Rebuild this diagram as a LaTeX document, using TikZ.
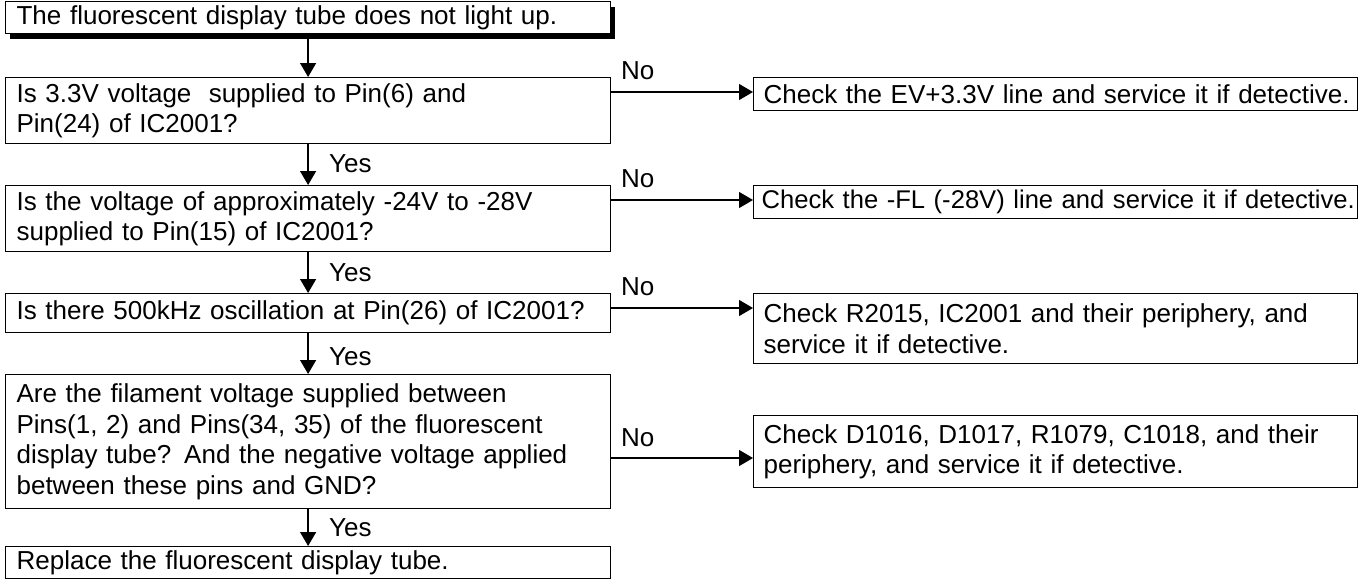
\documentclass[tikz,border=0pt]{standalone}
\usepackage{fontspec}
\setmainfont{Liberation Sans}
\usetikzlibrary{arrows.meta,shadows}
\begin{document}
\begin{tikzpicture}[x=1pt,y=-1pt,
  box/.style={draw, line width=1.2pt, anchor=north west, inner ysep=0pt, align=left,
    font=\fontsize{26}{30.5}\selectfont},
  lbox/.style={box, inner xsep=11pt, text width=583pt},
  rbox/.style={box, inner xsep=10pt, text width=584pt},
  arr/.style={-{Triangle[length=14pt,width=16pt]}, line width=1.3pt},
  lbl/.style={anchor=west, inner sep=0pt, font=\fontsize{26}{30}\selectfont}]
\useasboundingbox (0,0) rectangle (1363,579);
% left column
\node[lbox, minimum height=32pt, fill=white,
  drop shadow={shadow xshift=4pt, shadow yshift=-5pt, opacity=1, fill=black}] (t) at (5,1)
  {The fluorescent display tube does not light up.};
\node[lbox, minimum height=66pt] (q1) at (5,77)
  {Is 3.3V voltage\ \ supplied to Pin(6) and\\Pin(24) of IC2001?};
\node[lbox, minimum height=66pt] (q2) at (5,185)
  {Is the voltage of approximately -24V to -28V\\supplied to Pin(15) of IC2001?};
\node[lbox, minimum height=39pt] (q3) at (5,293)
  {Is there 500kHz oscillation at Pin(26) of IC2001?};
\node[lbox, minimum height=134pt] (q4) at (5,374)
  {Are the filament voltage supplied between\\Pins(1, 2) and Pins(34, 35) of the fluorescent\\display tube? And the negative voltage applied\\between these pins and GND?};
\node[lbox, minimum height=32pt] (e) at (5,546)
  {Replace the fluorescent display tube.};
% right column
\node[rbox, minimum height=33pt] (r1) at (753,77)
  {\mbox{Check the EV+3.3V line and service it if detective.}};
\node[rbox, minimum height=33pt, inner xsep=8pt, text width=588pt,
  font=\fontsize{25.6}{30.5}\selectfont] (r2) at (753,185)
  {\mbox{Check the -FL (-28V) line and service it if detective.}};
\node[rbox, minimum height=70pt] (r3) at (753,293)
  {Check R2015, IC2001 and their periphery, and\\service it if detective.};
\node[rbox, minimum height=72pt] (r4) at (753,415)
  {Check D1016, D1017, R1079, C1018, and their\\periphery, and service it if detective.};
% vertical arrows
\draw[arr] (t.south) -- (q1.north);
\draw[arr] (q1.south) -- (q2.north);
\draw[arr] (q2.south) -- (q3.north);
\draw[arr] (q3.south) -- (q4.north);
\draw[arr] (q4.south) -- (e.north);
% horizontal arrows
\coordinate (a1) at (0,92);
\coordinate (a2) at (0,200);
\coordinate (a3) at (0,308);
\coordinate (a4) at (0,458);
\draw[arr] (q1.east |- a1) -- (r1.west |- a1);
\draw[arr] (q2.east |- a2) -- (r2.west |- a2);
\draw[arr] (q3.east |- a3) -- (r3.west |- a3);
\draw[arr] (q4.east |- a4) -- (r4.west |- a4);
% labels
\node[lbl] (n1) at (621,71) {No};
\node[lbl] (n2) at (621,179) {No};
\node[lbl] (n3) at (621,287) {No};
\node[lbl] (n4) at (621,438) {No};
\node[lbl] (y1) at (329,164) {Yes};
\node[lbl] (y2) at (329,273) {Yes};
\node[lbl] (y3) at (329,357) {Yes};
\node[lbl] (y4) at (329,528) {Yes};
\end{tikzpicture}
\end{document}
